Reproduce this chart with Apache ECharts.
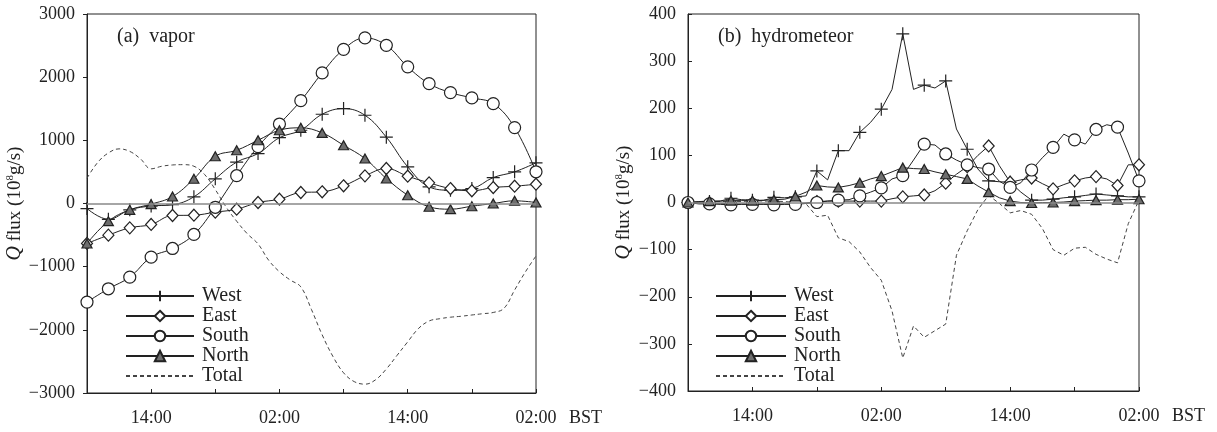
<!DOCTYPE html>
<html>
<head>
<meta charset="utf-8">
<script src="https://cdn.jsdelivr.net/npm/echarts@6/dist/echarts.min.js"></script>
<style>
  html, body { margin: 0; padding: 0; background: #fff; }
  #chart { width: 1217px; height: 432px; }
</style>
</head>
<body>
<div id="chart"></div>
<script>
// Hours after 08:00 BST on the first day
const hoursEven = [0, 2, 4, 6, 8, 10, 12, 14, 16, 18, 20, 22, 24, 26, 28, 30, 32, 34, 36, 38, 40, 42];
const hoursAll = [0, 1, 2, 3, 4, 5, 6, 7, 8, 9, 10, 11, 12, 13, 14, 15, 16, 17, 18, 19, 20, 21,
  22, 23, 24, 25, 26, 27, 28, 29, 30, 31, 32, 33, 34, 35, 36, 37, 38, 39, 40, 41, 42];

// Bottom-axis labels
const tickHours = [6, 18, 30, 42];
const tickLabels = ['14:00', '02:00', '14:00', '02:00'];

const seriesNames = ['West', 'East', 'South', 'North', 'Total'];

// (a) vapor flux, 10^8 g/s, every 2 h
const vaporWest = [-80, -250, -100, -40, -20, 106, 391, 655, 791, 1042, 1160, 1413, 1503, 1397, 1050, 581, 264, 211, 237, 411, 501, 644];
const vaporEast = [-633, -501, -385, -332, -190, -185, -137, -90, 16, 68, 174, 185, 280, 438, 554, 432, 327, 237, 201, 253, 274, 305];
const vaporSouth = [-1561, -1350, -1166, -849, -712, -490, -60, 440, 900, 1258, 1628, 2067, 2440, 2621, 2504, 2163, 1898, 1756, 1672, 1582, 1202, 502];
const vaporNorth = [-633, -280, -100, -10, 110, 391, 748, 843, 1001, 1160, 1198, 1118, 922, 712, 396, 131, -52, -90, -43, 0, 43, 16];
// hourly
const vaporTotal = [400, 650, 800, 865, 825, 707, 549, 590, 610, 615, 590, 459, 221, -53, -280, -480, -640, -900,
  -1080, -1210, -1320, -1680, -2080, -2420, -2680, -2820, -2860, -2790, -2620, -2405, -2190, -1980, -1860,
  -1824, -1800, -1785, -1765, -1745, -1725, -1660, -1370, -1085, -830];

// (b) hydrometeor flux, 10^8 g/s, hourly
const hydroWest = [0, 1, 2, 3, 9, 6, 5, 4, 11, 10, 12, 14, 67, 48, 110, 110, 149, 170, 198, 240, 358, 240,
  249, 243, 258, 156, 113, 71, 46, 44, 43, 22, 5, 5, 7, 10, 12, 15, 18, 16, 14, 12, 12];
const hydroEast = [0, -1, -2, -2, -3, -3, -3, -3, -3, -3, -3, -1, 2, 3, 3, 3, 3, 3, 3, 8, 12, 14,
  16, 25, 41, 60, 76, 100, 120, 78, 43, 48, 52, 40, 29, 38, 46, 52, 55, 50, 36, 80, 80];
const hydroSouth = [0, -3, -3, -4, -5, -4, -4, -4, -5, -4, -4, -2, 0, 3, 5, 6, 14, 22, 31, 50, 57, 90,
  124, 122, 103, 90, 80, 74, 71, 45, 32, 42, 69, 95, 117, 145, 133, 124, 155, 165, 160, 105, 46];
const hydroNorth = [0, 2, 3, 3, 4, 4, 4, 5, 6, 7, 13, 22, 36, 33, 32, 36, 42, 50, 56, 65, 74, 72,
  71, 65, 60, 55, 50, 35, 22, 10, 3, 0, -1, 0, 0, 1, 3, 4, 5, 5, 6, 6, 7];
const hydroTotal = [0, 1, 2, 2, 3, 2, 4, 3, 3, 2, 0, -3, -30, -27, -75, -83, -105, -138, -165, -230, -330, -262,
  -286, -272, -258, -112, -60, -15, 15, -2, -22, -17, -25, -55, -100, -112, -97, -95, -110, -120, -128, -45, 5];

const INK = '#222';
const FONT = '"Liberation Serif", "DejaVu Serif", serif';
const plusPath = 'path://M5,0L5,10M0,5L10,5';

const markerStyle = {
  West:  { symbol: plusPath,   size: 13,       fill: 'transparent' },
  East:  { symbol: 'diamond',  size: [11, 12], fill: '#fff' },
  South: { symbol: 'circle',   size: 12,       fill: '#fff' },
  North: { symbol: 'triangle', size: [10, 9],  fill: '#6e6e6e' }
};

function markedSeries(name, xs, ys, axisIndex, smooth, everyOther) {
  const m = markerStyle[name];
  return {
    name: name,
    type: 'line',
    xAxisIndex: axisIndex,
    yAxisIndex: axisIndex,
    smooth: smooth,
    clip: false,
    showAllSymbol: true,
    symbol: m.symbol,
    symbolSize: m.size,
    lineStyle: { color: INK, width: 1 },
    itemStyle: { color: m.fill, borderColor: INK, borderWidth: 1.2 },
    emphasis: { disabled: true },
    data: xs.map((h, i) => (everyOther && i % 2 === 1)
      ? { value: [h, ys[i]], symbol: 'none' }
      : [h, ys[i]])
  };
}

function totalSeries(xs, ys, axisIndex, smooth) {
  return {
    name: 'Total',
    type: 'line',
    xAxisIndex: axisIndex,
    yAxisIndex: axisIndex,
    smooth: smooth,
    symbol: 'none',
    lineStyle: { color: '#444', width: 1, type: [4, 3] },
    itemStyle: { color: 'transparent', borderWidth: 0 },
    emphasis: { disabled: true },
    z: 1,
    markLine: {
      silent: true,
      symbol: 'none',
      label: { show: false },
      lineStyle: { color: '#888', width: 1.5, type: 'solid' },
      data: [{ yAxis: 0 }]
    },
    data: xs.map((h, i) => [h, ys[i]])
  };
}

function xAxisFor(gridIndex) {
  return {
    gridIndex: gridIndex,
    type: 'value',
    min: 0,
    max: 42,
    interval: 6,
    axisLine: { onZero: false, lineStyle: { color: INK, width: 1 } },
    axisTick: { inside: true, length: 4, lineStyle: { color: INK } },
    splitLine: { show: false },
    axisLabel: {
      margin: 16,
      fontFamily: FONT,
      fontSize: 18,
      color: INK,
      showMinLabel: true,
      showMaxLabel: true,
      formatter: v => { const k = tickHours.indexOf(v); return k >= 0 ? tickLabels[k] : ''; }
    },
    name: 'BST',
    nameLocation: 'end',
    nameGap: 33,
    nameTextStyle: { fontFamily: FONT, fontSize: 18, color: INK, verticalAlign: 'top', padding: [16, 0, 0, 0] }
  };
}

function yAxisFor(gridIndex, lim, step, gap, insideTicks) {
  return {
    gridIndex: gridIndex,
    type: 'value',
    min: -lim,
    max: lim,
    interval: step,
    axisLine: { show: true, lineStyle: { color: INK, width: 1 } },
    axisTick: { show: true, inside: insideTicks, length: 4, lineStyle: { color: INK } },
    splitLine: { show: false },
    axisLabel: {
      margin: 12,
      fontFamily: FONT,
      fontSize: 18,
      color: INK,
      formatter: v => String(v).replace('-', '\u2212')
    },
    name: '{q|Q} flux (10{s|8}g/s)',
    nameLocation: 'middle',
    nameRotate: 90,
    nameGap: gap,
    nameTextStyle: {
      fontFamily: FONT,
      fontSize: 19,
      color: INK,
      rich: {
        q: { fontFamily: FONT, fontSize: 20, fontStyle: 'italic', color: INK },
        s: { fontFamily: FONT, fontSize: 11, color: INK, verticalAlign: 'top' }
      }
    }
  };
}

function legendFor(left, top, width) {
  return {
    orient: 'vertical',
    left: left,
    top: top,
    padding: 0,
    itemWidth: width,
    itemHeight: 13,
    itemGap: 0,
    selectedMode: false,
    data: seriesNames,
    textStyle: { fontFamily: FONT, fontSize: 20, color: INK, lineHeight: 18, padding: [0, 0, 0, 3] }
  };
}

const chart = echarts.init(document.getElementById('chart'), null, { renderer: 'canvas' });

chart.setOption({
  animation: false,
  backgroundColor: '#fff',
  title: [
    { text: '(a)  vapor', left: 117, top: 27, padding: 0,
      textStyle: { fontFamily: FONT, fontSize: 20, fontWeight: 'normal', color: INK } },
    { text: '(b)  hydrometeor', left: 718, top: 27, padding: 0,
      textStyle: { fontFamily: FONT, fontSize: 20, fontWeight: 'normal', color: INK } }
  ],
  legend: [legendFor(125, 286, 68), legendFor(715, 286, 70)],
  grid: [
    { left: 87, top: 14, width: 449, height: 379, show: true, borderColor: INK, borderWidth: 1 },
    { left: 688, top: 14, width: 451, height: 377, show: true, borderColor: INK, borderWidth: 1 }
  ],
  xAxis: [xAxisFor(0), xAxisFor(1)],
  yAxis: [yAxisFor(0, 3000, 1000, 61, false), yAxisFor(1, 400, 100, 54, true)],
  series: [
    totalSeries(hoursAll, vaporTotal, 0, 0.4),
    markedSeries('West', hoursEven, vaporWest, 0, 0.4, false),
    markedSeries('East', hoursEven, vaporEast, 0, 0.4, false),
    markedSeries('South', hoursEven, vaporSouth, 0, 0.4, false),
    markedSeries('North', hoursEven, vaporNorth, 0, 0.4, false),
    totalSeries(hoursAll, hydroTotal, 1, false),
    markedSeries('West', hoursAll, hydroWest, 1, false, true),
    markedSeries('East', hoursAll, hydroEast, 1, false, true),
    markedSeries('South', hoursAll, hydroSouth, 1, false, true),
    markedSeries('North', hoursAll, hydroNorth, 1, false, true)
  ]
});
</script>
</body>
</html>
